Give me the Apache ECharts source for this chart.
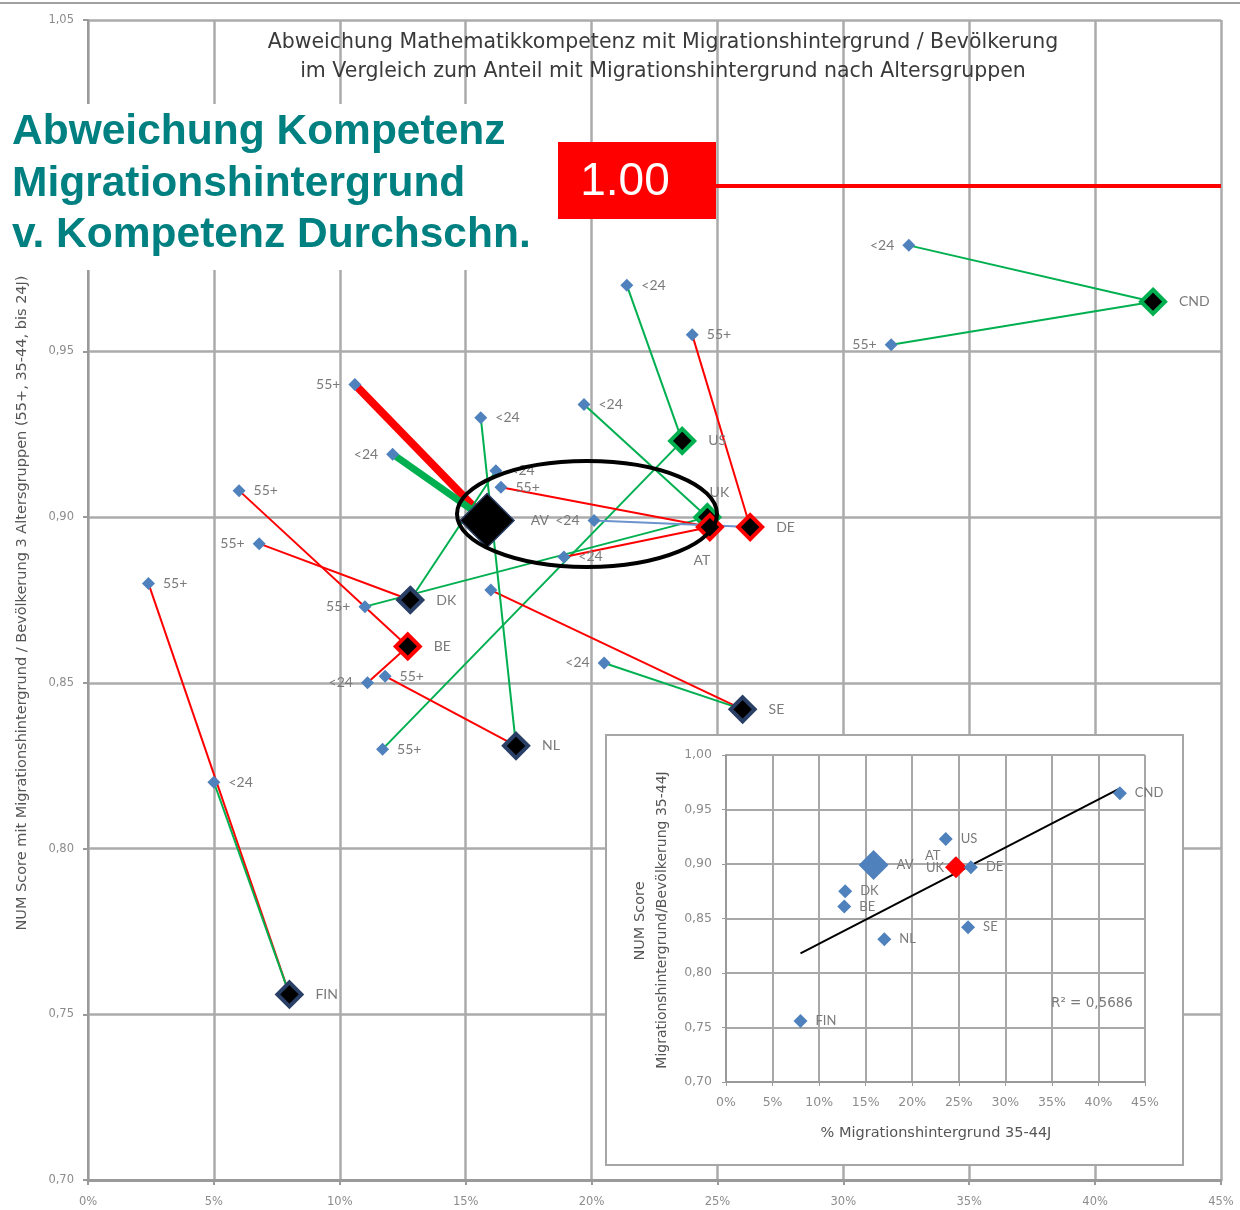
<!DOCTYPE html>
<html><head><meta charset="utf-8">
<script src="https://cdn.jsdelivr.net/npm/echarts@6/dist/echarts.min.js"></script>
<style>html,body{margin:0;padding:0;background:#fff}#c{width:1240px;height:1210px}</style>
</head><body><div id="c"></div>
<script>
// ---- data (x = % Migrationshintergrund, y = NUM score ratio) ----
const countries     = ['CND','US','UK','AT','DE','DK','BE','SE','NL','FIN','AV'];
const countryShare  = [42.3, 23.6, 24.6, 24.7, 26.3, 12.8, 12.7, 26.0, 17.0, 8.0, 15.85];
const countryScore  = [0.965, 0.923, 0.900, 0.897, 0.897, 0.875, 0.861, 0.842, 0.831, 0.756, 0.899];
const under24Share  = [32.6, 21.4, 19.7, 18.9, 20.1, 16.2, 11.1, 20.5, 15.6, 5.0, 12.1];
const under24Score  = [0.982, 0.970, 0.934, 0.888, 0.899, 0.914, 0.850, 0.856, 0.930, 0.820, 0.919];
const over55Share   = [31.9, 11.7, 11.0, 16.4, 24.0, 6.8, 6.0, 16.0, 11.8, 2.4, 10.6];
const over55Score   = [0.952, 0.830, 0.873, 0.909, 0.955, 0.892, 0.908, 0.878, 0.852, 0.880, 0.940];
const under24Label  = ['<24','<24','<24','<24','<24','<24','<24','<24','<24','<24','<24'];
const over55Label   = ['55+','55+','55+','55+','55+','55+','55+','','55+','55+','55+'];
const trendShare    = [8.0, 42.2];
const trendScore    = [0.818, 0.969];
const rSquaredText  = 'R² = 0,5686';
const referenceLevel = 1.00;
const mainXTicks = ['0%','5%','10%','15%','20%','25%','30%','35%','40%','45%'];
const mainYTicks = ['0,70','0,75','0,80','0,85','0,90','0,95','1,00','1,05'];

// ---- styles ----
const GREEN = '#00b050', RED = '#ff0000', BLUE = '#4f81bd', LBLUE = '#6b93cc';
const under24LinkColor = [GREEN,GREEN,GREEN,RED,LBLUE,GREEN,RED,GREEN,GREEN,GREEN,GREEN];
const over55LinkColor  = [GREEN,GREEN,GREEN,RED,RED,RED,RED,RED,RED,RED,RED];
const countryBorder    = [GREEN,GREEN,GREEN,RED,RED,'#2a3f66',RED,'#2a3f66','#2a3f66','#2a3f66','#2a3f66'];
const countryLabelPos  = ['right','right','top','bottom','right','right','right','right','right','right','right'];
const under24LabelPos  = ['left','right','right','right','left','right','left','left','right','right','left'];
const over55LabelPos   = ['left','right','left','right','right','left','right','right','right','right','left'];

const GRAY_TXT = '#7a7a7a';
const FONT = 'Lato, "Open Sans", sans-serif';
const WFONT = '"DejaVu Sans", sans-serif';

const chart = echarts.init(document.getElementById('c'), null, {renderer:'canvas'});

const series = [];
// connecting lines: 55+ first, then <24
countries.forEach((c,i)=>{
  series.push({type:'line', xAxisIndex:0, yAxisIndex:0, silent:true, animation:false, z:2,
    symbol:'none', data:[[over55Share[i],over55Score[i]],[countryShare[i],countryScore[i]]],
    lineStyle:{color:over55LinkColor[i], width: c==='AV'?8:2}});
});
countries.forEach((c,i)=>{
  series.push({type:'line', xAxisIndex:0, yAxisIndex:0, silent:true, animation:false, z:2,
    symbol:'none', data:[[under24Share[i],under24Score[i]],[countryShare[i],countryScore[i]]],
    lineStyle:{color:under24LinkColor[i], width: c==='AV'?7:2}});
});
// reference line at 1.00
series.push({type:'line', xAxisIndex:0, yAxisIndex:0, data:[], z:2, animation:false,
  markLine:{silent:true, symbol:'none', label:{show:false}, lineStyle:{color:RED, width:4, type:'solid'},
    data:[{yAxis:referenceLevel}]}});
// sub-group points
const subData = [];
countries.forEach((c,i)=>{
  subData.push({value:[under24Share[i],under24Score[i]], name:under24Label[i],
    label:{position:under24LabelPos[i]}});
  subData.push({value:[over55Share[i],over55Score[i]], name:over55Label[i],
    label:{position:over55LabelPos[i]}});
});
series.push({type:'scatter', xAxisIndex:0, yAxisIndex:0, z:3, animation:false,
  symbol:'diamond', symbolSize:13, itemStyle:{color:BLUE, opacity:1},
  label:{show:true, formatter:p=>p.name, color:GRAY_TXT, fontSize:14, fontFamily:FONT, distance:8},
  data:subData});
// country markers
series.push({type:'scatter', xAxisIndex:0, yAxisIndex:0, z:4, animation:false, symbol:'diamond',
  label:{show:true, formatter:p=>p.name, color:GRAY_TXT, fontSize:14, fontFamily:FONT, distance:12},
  data:countries.map((c,i)=>({value:[countryShare[i],countryScore[i]], name:c,
    symbolSize: c==='AV'?54:24,
    itemStyle:{color:'#000', opacity:1, borderColor:countryBorder[i], borderWidth: c==='AV'?1.5:4},
    label: c==='UK' ? {position:'top', distance:8, offset:[12,4]} :
           {position:countryLabelPos[i], distance: c==='AV'?16:12, offset: c==='AT'?[-8,0]:[0,0]}}))});

// inset
series.push({type:'line', xAxisIndex:1, yAxisIndex:1, z:8, silent:true, animation:false, symbol:'none',
  data:[[trendShare[0],trendScore[0]],[trendShare[1],trendScore[1]]], lineStyle:{color:'#000', width:2}});
series.push({type:'scatter', xAxisIndex:1, yAxisIndex:1, z:9, animation:false, symbol:'diamond',
  label:{show:true, formatter:p=>p.name, color:GRAY_TXT, fontSize:13, fontFamily:FONT, distance:8},
  data:countries.map((c,i)=>({value:[countryShare[i],countryScore[i]], name:c,
    symbolSize: c==='AV'?30:(c==='AT'?22:14),
    itemStyle:{color: c==='AT'?RED:BLUE, opacity:1},
    label: c==='AT'?{position:[-20,-7]}:(c==='UK'?{position:[-22,4]}:{position:'right'})}))});

const mainAxisLbl = {color:'#8c8c8c', fontSize:11.5, fontFamily:WFONT};
const option = {
  backgroundColor:'#fff',
  animation:false,
  grid:[
    {left:88, right:19, top:20, bottom:30},
    {left:726, right:95, top:755, bottom:128}
  ],
  xAxis:[
    {type:'value', gridIndex:0, min:0, max:45, interval:5, z:1,
      axisLine:{show:true, lineStyle:{color:'#9a9a9a', width:3}},
      axisTick:{show:true, length:5, lineStyle:{color:'#9a9a9a', width:2}},
      axisLabel:{...mainAxisLbl, margin:16, formatter:v=>mainXTicks[Math.round(v/5)]},
      splitLine:{show:true, lineStyle:{color:'#ababab', width:2.5}}},
    {type:'value', gridIndex:1, min:0, max:45, interval:5, z:6,
      axisLine:{show:true, lineStyle:{color:'#9a9a9a', width:2}},
      axisTick:{show:true, length:4, lineStyle:{color:'#9a9a9a'}},
      axisLabel:{color:'#8c8c8c', fontSize:12.5, fontFamily:WFONT, margin:14, formatter:'{value}%'},
      splitLine:{show:true, lineStyle:{color:'#a8a8a8', width:2}}}
  ],
  yAxis:[
    {type:'value', gridIndex:0, min:0.70, max:1.05, interval:0.05, z:1,
      axisLine:{show:true, lineStyle:{color:'#9a9a9a', width:2}},
      axisTick:{show:true, length:5, lineStyle:{color:'#9a9a9a', width:2}},
      axisLabel:{...mainAxisLbl, margin:14, formatter:v=>mainYTicks[Math.round((v-0.70)/0.05)]},
      splitLine:{show:true, lineStyle:{color:'#ababab', width:2.5}}},
    {type:'value', gridIndex:1, min:0.70, max:1.00, interval:0.05, z:6,
      axisLine:{show:true, lineStyle:{color:'#9a9a9a', width:2}},
      axisTick:{show:true, length:4, lineStyle:{color:'#9a9a9a'}},
      axisLabel:{color:'#8c8c8c', fontSize:12.5, fontFamily:WFONT, margin:14, formatter:v=>v.toFixed(2).replace('.',',')},
      splitLine:{show:true, lineStyle:{color:'#a8a8a8', width:2}}}
  ],
  graphic:[
    {type:'line', z:20, shape:{x1:0,y1:3,x2:1240,y2:3}, style:{stroke:'#a0a0a0', lineWidth:2}},
    {type:'rect', z:5, shape:{x:606,y:735,width:577,height:430}, style:{fill:'#fff', stroke:'#a6a6a6', lineWidth:2}},
    {type:'text', z:6, x:663, y:43, style:{text:'Abweichung Mathematikkompetenz mit Migrationshintergrund / Bevölkerung', align:'center', verticalAlign:'middle', font:'20.5px '+WFONT, fill:'#3a3a3a'}},
    {type:'text', z:6, x:663, y:72, style:{text:'im Vergleich zum Anteil mit Migrationshintergrund nach Altersgruppen', align:'center', verticalAlign:'middle', font:'20.5px '+WFONT, fill:'#3a3a3a'}},
    {type:'text', z:6, x:22, y:603, rotation:Math.PI/2, style:{text:'NUM Score mit Migrationshintergrund / Bevölkerung 3 Altersgruppen (55+, 35-44, bis 24J)', align:'center', verticalAlign:'middle', font:'14.5px '+WFONT, fill:'#555'}},
    {type:'text', z:9, x:640, y:921, rotation:Math.PI/2, style:{text:'NUM Score', align:'center', verticalAlign:'middle', font:'14.5px '+WFONT, fill:'#555'}},
    {type:'text', z:9, x:662, y:920, rotation:Math.PI/2, style:{text:'Migrationshintergrund/Bevölkerung 35-44J', align:'center', verticalAlign:'middle', font:'14px '+WFONT, fill:'#555'}},
    {type:'text', z:9, x:936, y:1133, style:{text:'% Migrationshintergrund 35-44J', align:'center', verticalAlign:'middle', font:'14.5px '+WFONT, fill:'#555'}},
    {type:'text', z:9, x:1092, y:1003, style:{text:rSquaredText, align:'center', verticalAlign:'middle', font:'13.5px '+WFONT, fill:'#7a7a7a'}},
    {type:'rect', z:20, shape:{x:0,y:104,width:559,height:166}, style:{fill:'#fff'}},
    {type:'text', z:21, x:12, y:132, style:{text:'Abweichung Kompetenz', align:'left', verticalAlign:'middle', font:'bold 42.5px "Liberation Sans", Arial, sans-serif', fill:'#008080'}},
    {type:'text', z:21, x:12, y:184, style:{text:'Migrationshintergrund', align:'left', verticalAlign:'middle', font:'bold 42.5px "Liberation Sans", Arial, sans-serif', fill:'#008080'}},
    {type:'text', z:21, x:12, y:235, style:{text:'v. Kompetenz Durchschn.', align:'left', verticalAlign:'middle', font:'bold 42.5px "Liberation Sans", Arial, sans-serif', fill:'#008080'}},
    {type:'rect', z:21, shape:{x:558,y:142,width:158,height:77}, style:{fill:'#ff0000'}},
    {type:'text', z:22, x:625, y:182, style:{text:'1.00', align:'center', verticalAlign:'middle', font:'46px "Liberation Sans", Arial, sans-serif', fill:'#fff'}},
    {type:'ellipse', z:22, shape:{cx:587, cy:514, rx:130, ry:53}, style:{fill:null, stroke:'#000', lineWidth:4}}
  ],
  series
};
chart.setOption(option);
</script></body></html>
